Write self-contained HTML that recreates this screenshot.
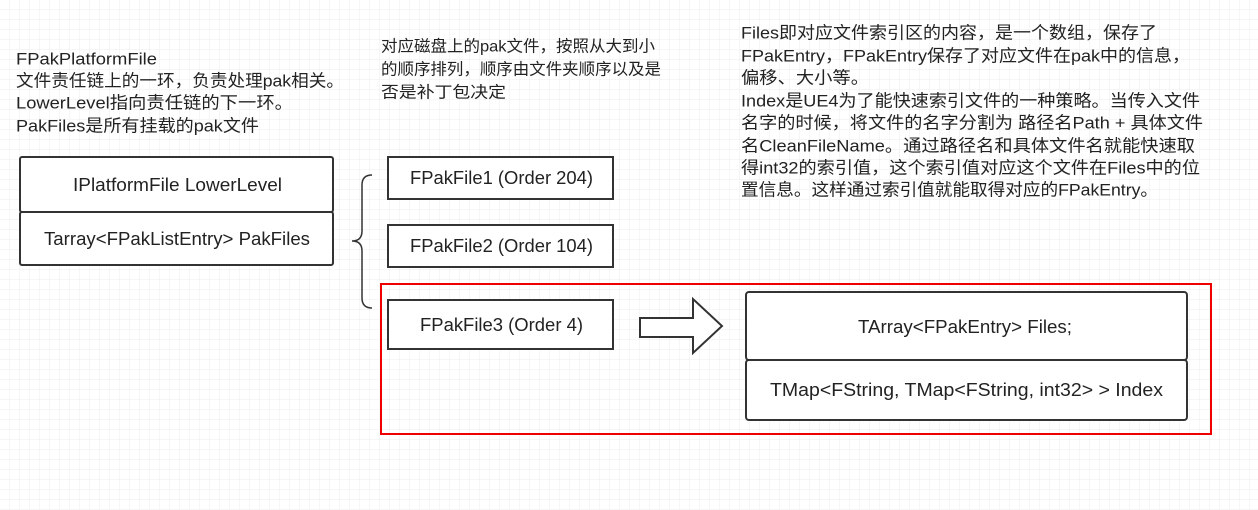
<!DOCTYPE html>
<html><head><meta charset="utf-8"><style>
html,body{margin:0;padding:0;background:#fff;}
svg{display:block;}
text{font-family:"Liberation Sans","Noto Sans CJK SC",sans-serif;fill:#222;}
</style></head><body>
<svg width="1258" height="510" xmlns="http://www.w3.org/2000/svg">
<defs>
<pattern id="g" width="10" height="10" patternUnits="userSpaceOnUse">
<path d="M10 0V10M0 10H10" fill="none" stroke="#ededed" stroke-width="1"/>
</pattern>
</defs>
<rect width="1258" height="510" fill="url(#g)"/>

<g font-size="17" dominant-baseline="central">
<text x="16" y="59" textLength="141" lengthAdjust="spacingAndGlyphs">FPakPlatformFile</text>
<text x="16" y="81" textLength="328" lengthAdjust="spacingAndGlyphs">文件责任链上的一环，负责处理pak相关。</text>
<text x="16" y="103" textLength="277" lengthAdjust="spacingAndGlyphs">LowerLevel指向责任链的下一环。</text>
<text x="16" y="126" textLength="243" lengthAdjust="spacingAndGlyphs">PakFiles是所有挂载的pak文件</text>
</g>
<g font-size="16" dominant-baseline="central">
<text x="381" y="47" textLength="274" lengthAdjust="spacingAndGlyphs">对应磁盘上的pak文件，按照从大到小</text>
<text x="381" y="70" textLength="280" lengthAdjust="spacingAndGlyphs">的顺序排列，顺序由文件夹顺序以及是</text>
<text x="381" y="93" textLength="125" lengthAdjust="spacingAndGlyphs">否是补丁包决定</text>
</g>
<g font-size="17" dominant-baseline="central">
<text x="741" y="33" textLength="416" lengthAdjust="spacingAndGlyphs">Files即对应文件索引区的内容，是一个数组，保存了</text>
<text x="741" y="56" textLength="449" lengthAdjust="spacingAndGlyphs">FPakEntry，FPakEntry保存了对应文件在pak中的信息，</text>
<text x="741" y="78" textLength="128" lengthAdjust="spacingAndGlyphs">偏移、大小等。</text>
<text x="741" y="101" textLength="459" lengthAdjust="spacingAndGlyphs">Index是UE4为了能快速索引文件的一种策略。当传入文件</text>
<text x="741" y="123" textLength="462" lengthAdjust="spacingAndGlyphs">名字的时候，将文件的名字分割为 路径名Path + 具体文件</text>
<text x="741" y="146" textLength="454" lengthAdjust="spacingAndGlyphs">名CleanFileName。通过路径名和具体文件名就能快速取</text>
<text x="741" y="168" textLength="459" lengthAdjust="spacingAndGlyphs">得int32的索引值，这个索引值对应这个文件在Files中的位</text>
<text x="741" y="190" textLength="417" lengthAdjust="spacingAndGlyphs">置信息。这样通过索引值就能取得对应的FPakEntry。</text>
</g>

<g fill="#fff" stroke="#333" stroke-width="2">
<rect x="20" y="157" width="313" height="55" rx="2"/>
<rect x="20" y="212" width="313" height="53" rx="2"/>
<rect x="388" y="157" width="225" height="42"/>
<rect x="388" y="225" width="225" height="42"/>
<rect x="388" y="300" width="225" height="49"/>
<rect x="746" y="292" width="441" height="68" rx="3"/>
<rect x="746" y="360" width="441" height="60" rx="3"/>
</g>
<path d="M372 175 Q362 175 362 185 V231 Q362 241 352 241 Q362 241 362 251 V298 Q362 308 372 308" fill="none" stroke="#333" stroke-width="1.5"/>
<rect x="381" y="284" width="830" height="150" fill="none" stroke="#e00" stroke-width="2"/>
<path d="M640 318 H693 V299 L722 326 L693 353 V337 H640 Z" fill="#fff" stroke="#333" stroke-width="2"/>

<g font-size="18" dominant-baseline="central" style="fill:#333">
<text x="73" y="185" textLength="209" lengthAdjust="spacingAndGlyphs">IPlatformFile LowerLevel</text>
<text x="44" y="239" textLength="266" lengthAdjust="spacingAndGlyphs">Tarray&lt;FPakListEntry&gt; PakFiles</text>
<text x="410" y="178" textLength="183" lengthAdjust="spacingAndGlyphs">FPakFile1 (Order 204)</text>
<text x="410" y="246" textLength="183" lengthAdjust="spacingAndGlyphs">FPakFile2 (Order 104)</text>
<text x="420" y="325" textLength="163" lengthAdjust="spacingAndGlyphs">FPakFile3 (Order 4)</text>
<text x="858" y="327" textLength="214" lengthAdjust="spacingAndGlyphs">TArray&lt;FPakEntry&gt; Files;</text>
<text x="770" y="390" textLength="393" lengthAdjust="spacingAndGlyphs">TMap&lt;FString, TMap&lt;FString, int32&gt; &gt; Index</text>
</g>
</svg>
</body></html>
